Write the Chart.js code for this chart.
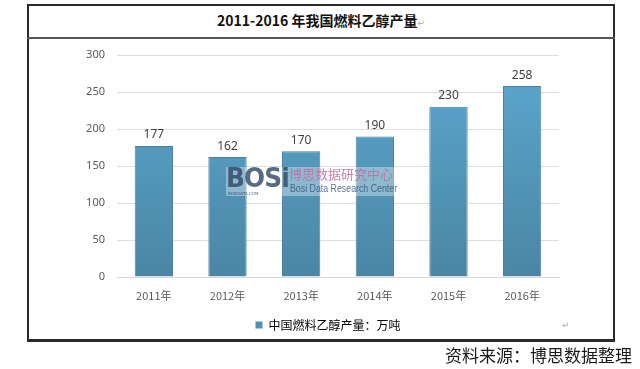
<!DOCTYPE html>
<html>
<head>
<meta charset="utf-8">
<script src="https://cdn.jsdelivr.net/npm/chart.js@4.4.1/dist/chart.umd.min.js"></script>
<style>
  html, body { margin: 0; padding: 0; background: #fff; }
  body { width: 640px; height: 369px; position: relative; overflow: hidden; font-family: "Noto Sans CJK SC", "Noto Sans", sans-serif; }
  #frame { position: absolute; left: 27px; top: 4px; width: 584px; height: 333px; border: 2px solid #2a2a2a; border-bottom-width: 3px; box-sizing: content-box; }
  #divider { position: absolute; left: 27px; top: 37px; width: 588px; height: 2px; background: #555; }
  #title { position: absolute; left: 27px; top: 10px; width: 588px; text-align: center; font-size: 14px; font-weight: bold; color: #111; line-height: 20px; }
  .ret { font-family: "DejaVu Sans", sans-serif; font-weight: normal; font-size: 9px; color: #b0b0b0; }
  #ret2 { position: absolute; left: 562px; top: 320px; }
  #source { position: absolute; right: 8px; top: 343px; font-size: 17px; color: #1a1a1a; line-height: 24px; }
  #wrap { position: absolute; left: 0; top: 0; width: 640px; height: 369px; }
  #wm { position: absolute; left: 226px; top: 167px; width: 170px; height: 29px; background: rgba(255,255,255,0.35); white-space: nowrap; }
  #wm .bos { position: absolute; left: 0px; top: -5px; font-family: "DejaVu Sans", sans-serif; font-weight: bold; font-size: 27px; letter-spacing: -1px; color: rgba(45,70,100,0.8); transform: scaleX(0.92); transform-origin: left top; }
  #wm .dom { position: absolute; left: 2px; top: 24px; font-family: "DejaVu Sans", sans-serif; font-size: 4px; color: rgba(45,70,100,0.8); }
  #wm .cn { position: absolute; left: 63px; top: -1px; font-size: 13px; line-height: 16px; color: rgba(190,110,160,0.85); }
  #wm .en { position: absolute; left: 64px; top: 15px; font-family: "Liberation Sans", sans-serif; font-size: 11px; line-height: 13px; color: rgba(50,80,120,0.8); transform: scaleX(0.8); transform-origin: left top; }
</style>
</head>
<body>
<div id="frame"></div>
<div id="divider"></div>
<div id="title">2011-2016 年我国燃料乙醇产量<span class="ret">↵</span></div>
<div id="wrap"><canvas id="c" width="640" height="369"></canvas></div>
<div id="wm"><span class="bos">BOSi</span><span class="dom">BOSIDATA.COM</span><span class="cn">博思数据研究中心</span><span class="en">Bosi Data Research Center</span></div>
<div id="ret2" class="ret">↵</div>
<div id="source">资料来源：博思数据整理</div>
<script>
const categories = ["2011年", "2012年", "2013年", "2014年", "2015年", "2016年"];
const production = [177, 162, 170, 190, 230, 258];
const seriesName = "中国燃料乙醇产量：万吨";
const yTicks = [0, 50, 100, 150, 200, 250, 300];

function barGradient(ctx) {
  const chart = ctx.chart;
  const area = chart.chartArea;
  if (!area) return '#54a0c8';
  const g = chart.ctx.createLinearGradient(0, area.top, 0, area.bottom);
  g.addColorStop(0, '#5ca8d0');
  g.addColorStop(1, '#4a86a4');
  return g;
}

const valueLabels = {
  id: 'valueLabels',
  afterLayout(chart) {
    const l = chart.legend;
    if (l) { l.left += 10; l.right += 10; }
  },
  afterDatasetsDraw(chart) {
    const ctx = chart.ctx;
    const meta = chart.getDatasetMeta(0);
    ctx.save();
    ctx.font = '12px "Noto Sans", "Noto Sans CJK SC", sans-serif';
    ctx.fillStyle = '#404040';
    ctx.textAlign = 'center';
    ctx.textBaseline = 'bottom';
    meta.data.forEach((el, i) => {
      ctx.fillText(String(chart.data.datasets[0].data[i]), el.x, el.y - 5);
    });
    ctx.restore();
  }
};

new Chart(document.getElementById('c'), {
  type: 'bar',
  data: {
    labels: categories,
    datasets: [{
      label: seriesName,
      data: production,
      backgroundColor: barGradient,
      borderColor: '#4a7f9a',
      borderWidth: 1,
      categoryPercentage: 1,
      barPercentage: 0.52
    }]
  },
  options: {
    responsive: false,
    animation: false,
    devicePixelRatio: 1,
    layout: { padding: { left: 77, right: 81, top: 55, bottom: 28 } },
    plugins: {
      legend: {
        position: 'bottom',
        labels: {
          boxWidth: 7, boxHeight: 7, padding: 12,
          color: '#595959',
          font: { size: 12, family: '"Noto Sans CJK SC", sans-serif' },
          generateLabels(chart) {
            return [{ text: seriesName, fillStyle: '#4f8fb2', strokeStyle: '#4f8fb2', lineWidth: 0, datasetIndex: 0 }];
          }
        }
      },
      tooltip: { enabled: false }
    },
    scales: {
      x: {
        grid: { display: false, drawTicks: false },
        border: { display: true, color: '#d9d9d9', width: 1 },
        ticks: { color: '#595959', padding: 12, font: { size: 11, family: '"Noto Sans CJK SC", sans-serif' } },
        afterFit(s) { s.height = 30; }
      },
      y: {
        min: 0, max: 300,
        afterBuildTicks(s) { s.ticks = yTicks.map(v => ({ value: v })); },
        grid: { color: '#dedede', drawTicks: false },
        border: { display: false },
        ticks: { color: '#595959', padding: 12, font: { size: 11, family: '"Noto Sans", sans-serif' } },
        afterFit(s) { s.width = 40; }
      }
    }
  },
  plugins: [valueLabels]
});
</script>
</body>
</html>
